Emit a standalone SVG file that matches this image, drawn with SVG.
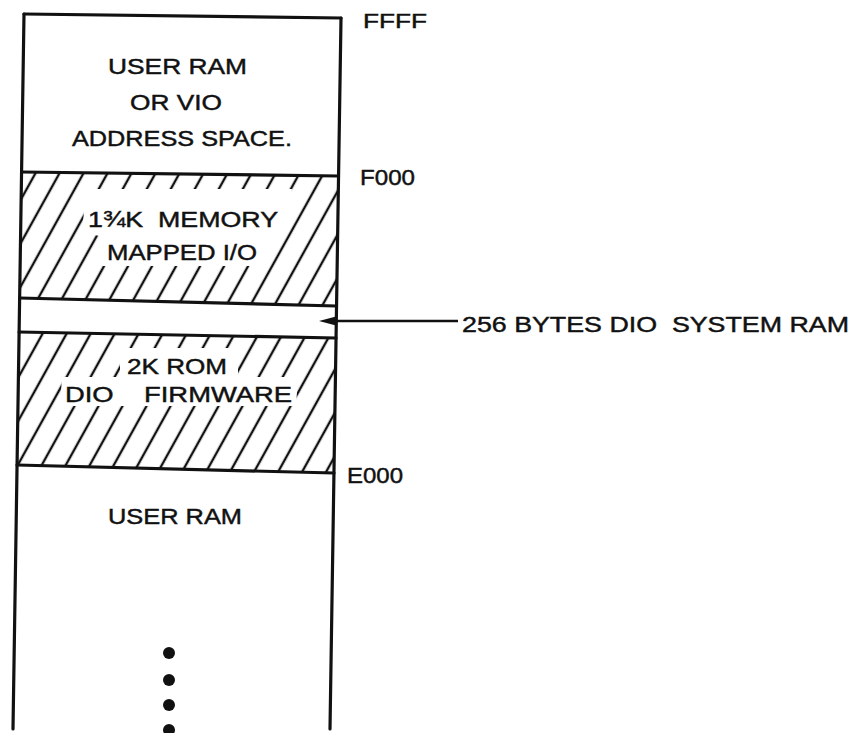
<svg xmlns="http://www.w3.org/2000/svg" width="852" height="733" viewBox="0 0 852 733">
<style>
.t{font-family:"Liberation Sans",Arial,sans-serif;font-size:22px;fill:#111;stroke:#111;stroke-width:0.45;white-space:pre}
.s{font-size:20px}
.b{fill:none;stroke:#111;stroke-width:3.2;stroke-linecap:round;stroke-linejoin:round}
.k{fill:#fff}
</style>
<defs>
<pattern id="hatch" width="21" height="12" patternUnits="userSpaceOnUse" patternTransform="rotate(29)">
<line x1="10" y1="-1" x2="10" y2="13" stroke="#111" stroke-width="2.4"/>
</pattern>
</defs>
<rect width="852" height="733" fill="#fff"/>

<g id="user-ram-vio">
<text class="t" x="108" y="74" textLength="139" lengthAdjust="spacingAndGlyphs">USER RAM</text>
<text class="t" x="130" y="110" textLength="92" lengthAdjust="spacingAndGlyphs">OR VIO</text>
<text class="t" x="72" y="146" textLength="220" lengthAdjust="spacingAndGlyphs">ADDRESS SPACE.</text>
</g>

<g id="memory-mapped-io">
<polygon points="21.6,172 338.5,176 336.5,306 19.6,298" fill="url(#hatch)"/>
<polygon class="k" points="86,189 292,189 286,233 268,236 266,266 100,266 100,236 82,233"/>
<text class="t" x="88" y="227" textLength="190" lengthAdjust="spacingAndGlyphs" xml:space="preserve">1¾K  MEMORY</text>
<text class="t" x="107" y="260" textLength="150" lengthAdjust="spacingAndGlyphs">MAPPED I/O</text>
</g>

<g id="dio-system-ram">
<text class="t" x="462" y="332" textLength="387" lengthAdjust="spacingAndGlyphs" xml:space="preserve">256 BYTES DIO  SYSTEM RAM</text>
</g>

<g id="rom-firmware">
<polygon points="19.1,332 336,338 334,473 17,465" fill="url(#hatch)"/>
<polygon class="k" points="120,348 238,348 238,377 298,377 296,406 60,406 62,377 120,377"/>
<text class="t" x="127" y="374" textLength="100" lengthAdjust="spacingAndGlyphs">2K ROM</text>
<text class="t" x="65" y="402" textLength="227" lengthAdjust="spacingAndGlyphs" xml:space="preserve">DIO    FIRMWARE</text>
</g>

<g id="user-ram">
<text class="t" x="108" y="524" textLength="134" lengthAdjust="spacingAndGlyphs">USER RAM</text>
<circle cx="169" cy="653" r="6" fill="#111"/>
<circle cx="169" cy="680" r="6" fill="#111"/>
<circle cx="169" cy="705" r="6" fill="#111"/>
<circle cx="169" cy="730" r="6" fill="#111"/>
</g>

<g id="addresses">
<text class="t s" x="363" y="28" textLength="64" lengthAdjust="spacingAndGlyphs">FFFF</text>
<text class="t" x="360" y="185" textLength="55" lengthAdjust="spacingAndGlyphs">F000</text>
<text class="t" x="347" y="483" textLength="56" lengthAdjust="spacingAndGlyphs">E000</text>
</g>

<g id="connectors">
<line class="b" x1="24" y1="14" x2="341" y2="18"/>
<line class="b" x1="24" y1="14" x2="13" y2="729"/>
<line class="b" x1="341" y1="18" x2="330" y2="729"/>
<line class="b" x1="21.6" y1="172" x2="338.5" y2="176"/>
<line class="b" x1="19.6" y1="298" x2="336.5" y2="306"/>
<line class="b" x1="19.1" y1="332" x2="336" y2="338"/>
<line class="b" x1="17" y1="465" x2="334" y2="473"/>
<line x1="458" y1="321" x2="330" y2="321" stroke="#111" stroke-width="2.5"/>
<polygon points="319,321 336,316.5 336,325.5" fill="#111"/>
</g>
</svg>
